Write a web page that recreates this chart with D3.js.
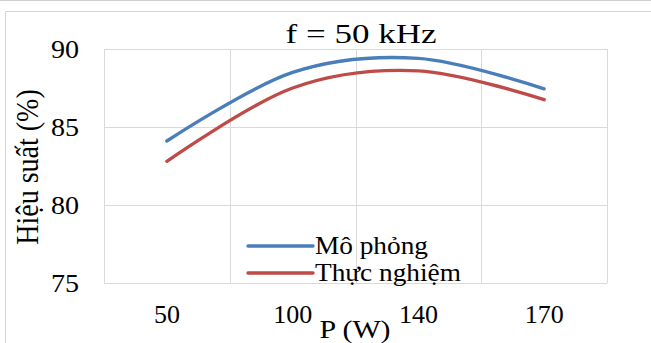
<!DOCTYPE html>
<html>
<head>
<meta charset="utf-8">
<script src="https://cdn.jsdelivr.net/npm/d3@7"></script>
<style>
  body { margin: 0; background: #fff; }
</style>
</head>
<body>
<svg id="chart" width="651" height="343"></svg>
<script>
// Data
const categories = ['50', '100', '140', '170'];
const moPhong = [84.1, 88.5, 89.4, 87.45];
const thucNghiem = [82.8, 87.5, 88.6, 86.75];
const yTicks = [75, 80, 85, 90];

const series = [
    { name: 'Mô phỏng', values: moPhong, color: '#4a7ebb' },
    { name: 'Thực nghiệm', values: thucNghiem, color: '#be4b48' }
];

// Layout
const margin = { top: 49, right: 44, bottom: 60, left: 104 },
    W = 651, H = 343,
    width = W - margin.left - margin.right,
    height = H - margin.top - margin.bottom,
    fontSize = 26,
    gridColor = '#d9d9d9';

const svg = d3.select('#chart');

// Text helper: serif font everywhere
function label(sel, size) {
    return sel.style('font-family', "'Liberation Serif'")
        .style('font-size', (size || fontSize) + 'px')
        .style('fill', '#000');
}

// Outer frame lines
svg.append('line').attr('x1', 0).attr('x2', W).attr('y1', 0.5).attr('y2', 0.5)
    .attr('stroke', '#cfcfcf');
svg.append('path').attr('d', 'M5.5,' + H + 'V11.5H' + W)
    .attr('fill', 'none').attr('stroke', '#d4d4d4');

const g = svg.append('g').attr('transform', 'translate(' + margin.left + ',' + margin.top + ')');

const x = d3.scaleBand().domain(categories).range([0, width]).padding(0);
const y = d3.scaleLinear().domain([75, 90]).range([height, 0]);
const cx = d => x(d) + x.bandwidth() / 2;

// Horizontal grid
g.selectAll('.hgrid').data(yTicks).enter().append('line')
    .attr('class', 'hgrid')
    .attr('x1', 0).attr('x2', width)
    .attr('y1', d => Math.round(y(d)) + 0.5).attr('y2', d => Math.round(y(d)) + 0.5)
    .attr('stroke', gridColor);

// Vertical grid at category boundaries
const bounds = categories.map(c => x(c)).concat([width]);
g.selectAll('.vgrid').data(bounds).enter().append('line')
    .attr('class', 'vgrid')
    .attr('x1', d => Math.round(d) + 0.5).attr('x2', d => Math.round(d) + 0.5)
    .attr('y1', 0).attr('y2', height)
    .attr('stroke', gridColor);

// Y tick labels
g.selectAll('.ytick').data(yTicks).enter().append('text')
    .attr('class', 'ytick')
    .attr('transform', d => 'translate(-25,' + y(d) + ') scale(1.08,1)')
    .attr('dy', '0.35em')
    .attr('text-anchor', 'end')
    .call(label)
    .text(d => d);

// X tick labels
g.selectAll('.xtick').data(categories).enter().append('text')
    .attr('class', 'xtick')
    .attr('x', cx).attr('y', height + 40)
    .attr('text-anchor', 'middle')
    .call(label)
    .text(d => d);

// Lines
const line = d3.line()
    .x((d, i) => cx(categories[i]))
    .y(d => y(d))
    .curve(d3.curveCardinal.tension(0));

g.selectAll('.series').data(series).enter().append('path')
    .attr('class', 'series')
    .attr('d', d => line(d.values))
    .attr('fill', 'none')
    .attr('stroke', d => d.color)
    .attr('stroke-width', 3.4)
    .attr('stroke-linecap', 'round');

// Legend
const legend = g.selectAll('.legend').data(series).enter().append('g')
    .attr('class', 'legend')
    .attr('transform', (d, i) => 'translate(144,' + (197 + i * 27) + ')');
legend.append('line')
    .attr('x1', 0).attr('x2', 65)
    .attr('stroke', d => d.color).attr('stroke-width', 3.4)
    .attr('stroke-linecap', 'round');
legend.append('text')
    .attr('transform', 'translate(67,0) scale(1.05,1)')
    .attr('dy', '0.3em')
    .call(label)
    .text(d => d.name);

// Title
svg.append('text')
    .attr('transform', 'translate(361,43) scale(1.25,1)')
    .attr('text-anchor', 'middle')
    .call(label, 28)
    .text('f = 50 kHz');

// Axis titles
svg.append('text')
    .attr('transform', 'translate(355,338) scale(1.15,1)')
    .attr('text-anchor', 'middle')
    .call(label)
    .text('P (W)');

svg.append('text')
    .attr('transform', 'translate(38,167) scale(1.12,1) rotate(-90)')
    .attr('text-anchor', 'middle')
    .call(label, 28)
    .text('Hiệu suất (%)');
</script>
</body>
</html>
